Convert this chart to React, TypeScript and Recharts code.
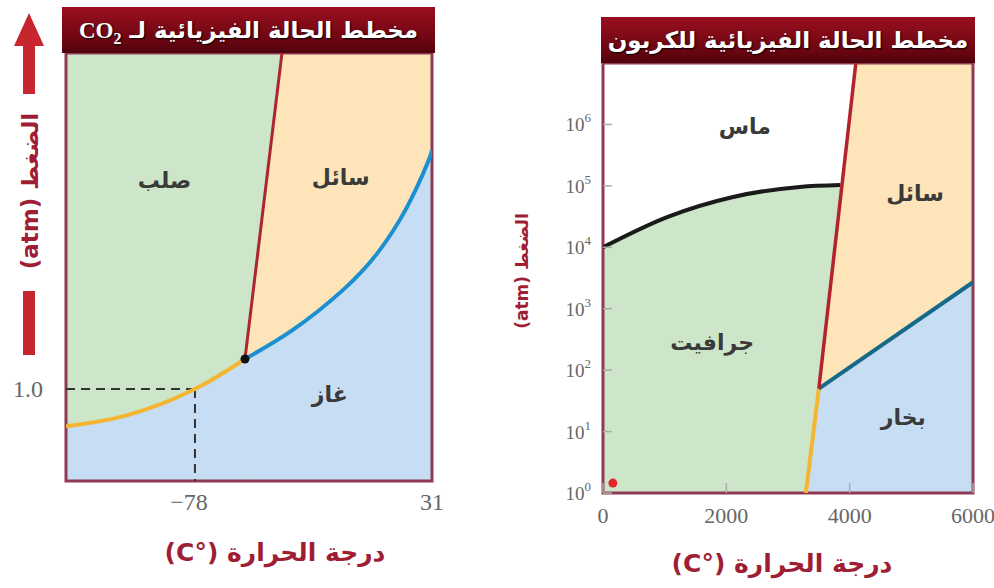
import React from 'react';
import {
  ComposedChart,
  Area,
  Line,
  Scatter,
  XAxis,
  YAxis,
  ReferenceArea,
} from 'recharts';

// ---------- CO2 diagram (schematic pressure axis, 0-100) ----------
const co2TempDomain = [-137.3, 31];
const co2TempTicks = [-78, 31];
const co2PressureDomain = [0, 100];
const co2PressureTicks = [21.5]; // where 1.0 atm sits on the schematic axis
const co2PressureTickLabels = ['1.0'];

const co2Sublimation = [
  { t: -137.3, p: 12.8 },
  { t: -109, p: 15.4 },
  { t: -78, p: 21.5 },
  { t: -55, p: 28.5 },
];
const co2Vaporization = [
  { t: -55, p: 28.5 },
  { t: -33, p: 35.3 },
  { t: -10, p: 44.6 },
  { t: 6, p: 53.3 },
  { t: 19.5, p: 64 },
  { t: 28.8, p: 74.1 },
  { t: 31, p: 77.3 },
];
const co2Melting = [
  { t: -55, p: 28.5 },
  { t: -38, p: 100 },
];
const co2Triple = [{ t: -55, p: 28.5 }];
const co2OneAtmH = [
  { t: -137.3, p: 21.5 },
  { t: -78, p: 21.5 },
];
const co2OneAtmV = [
  { t: -78, p: 21.5 },
  { t: -78, p: 0 },
];
const co2Labels = [
  { t: -92, p: 70.3, name: 'صلب' },
  { t: -11, p: 71, name: 'سائل' },
  { t: -16, p: 20.1, name: 'غاز' },
];

// ---------- Carbon diagram (log pressure axis) ----------
const cTempDomain = [0, 6000];
const cTempTicks = [0, 2000, 4000, 6000];
const cPressureDomain = [1, 1e7];
const cPressureTicks = [1, 10, 100, 1e3, 1e4, 1e5, 1e6];

const cDiamondGraphite = [
  { t: 0, p: 1.0e4 },
  { t: 1040, p: 3.1e4 },
  { t: 2110, p: 6.6e4 },
  { t: 3190, p: 9.6e4 },
  { t: 3850, p: 1.03e5 },
];
const cMelting = [
  { t: 3500, p: 50 },
  { t: 4100, p: 1e7 },
];
const cSublimation = [
  { t: 3290, p: 1 },
  { t: 3500, p: 50 },
];
const cVaporization = [
  { t: 3500, p: 50 },
  { t: 6000, p: 2700 },
];
const cRoomPoint = [{ t: 160, p: 1.45 }];
const cLabels = [
  { t: 2300, p: 9.1e5, name: 'ماس' },
  { t: 5060, p: 7.6e4, name: 'سائل' },
  { t: 1770, p: 277, name: 'جرافيت' },
  { t: 4870, p: 17, name: 'بخار' },
];

const GREEN = '#cde6c9';
const YELLOW = '#fde5b9';
const BLUE = '#c6ddf3';
const FRAME = '#8f3a52';
const AXIS_RED = '#9e1f35';
const ARABIC = '"DejaVu Sans", "Noto Sans", sans-serif';
const SERIF = '"Liberation Serif", "DejaVu Serif", serif';

const toRange = (rows: { t: number; p: number }[], low: number) =>
  rows.map((d) => ({ t: d.t, r: [low, d.p] }));

const RegionLabel = (props: any) => (
  <text
    x={props.cx}
    y={props.cy}
    textAnchor="middle"
    dominantBaseline="central"
    fontFamily={ARABIC}
    fontWeight="bold"
    fontSize={22}
    fill="#3a3a3a"
  >
    {props.payload.name}
  </text>
);

const co2XTick = ({ x, y, payload }: any) => (
  <text x={x} y={y} dy="0.71em" dx={payload.value < 0 ? -6 : 0} textAnchor="middle" fontFamily={SERIF} fontSize={24} fill="#666">
    {payload.value < 0 ? '\u2212' + Math.abs(payload.value) : payload.value}
  </text>
);

const co2YTick = ({ x, y, payload }: any) => (
  <text x={x} y={y} textAnchor="end" dominantBaseline="central" fontFamily={SERIF} fontSize={24} fill="#666">
    {co2PressureTickLabels[co2PressureTicks.indexOf(payload.value)]}
  </text>
);

const cXTick = ({ x, y, payload }: any) => (
  <g>
    <line x1={x} x2={x} y1={y - 14} y2={y - 24} stroke="#aaa" strokeWidth={1.5} />
    <text x={x} y={y} dy="0.71em" textAnchor="middle" fontFamily={SERIF} fontSize={22} fill="#666">
      {payload.value}
    </text>
  </g>
);

const cYTick = ({ x, y, payload }: any) => {
  const exp = Math.round(Math.log10(payload.value));
  return (
    <g>
      <line x1={x + 12} x2={x + 21} y1={y} y2={y} stroke="#aaa" strokeWidth={1.5} />
      <text x={x} y={y} textAnchor="end" dominantBaseline="central" fontFamily={SERIF} fontSize={19} fill="#666">
        <tspan>10</tspan>
        <tspan dy={-7} fontSize={13}>
          {exp}
        </tspan>
      </text>
    </g>
  );
};

const titleStyle: React.CSSProperties = {
  position: 'absolute',
  height: 46,
  background: 'linear-gradient(#9a0f1f, #6e0612 70%, #4e030c)',
  color: '#fff',
  fontFamily: ARABIC,
  fontWeight: 'bold',
  fontSize: 23,
  lineHeight: '46px',
  textAlign: 'center',
  textShadow: '1px 1px 2px #000',
  direction: 'rtl',
  whiteSpace: 'nowrap',
};

const axisTitleStyle: React.CSSProperties = {
  position: 'absolute',
  color: AXIS_RED,
  fontFamily: ARABIC,
  fontWeight: 'bold',
  direction: 'rtl',
  whiteSpace: 'nowrap',
  transform: 'translate(-50%, -50%)',
};

export default function App() {
  return (
    <div style={{ position: 'absolute', left: 0, top: 0, width: 994, height: 588, overflow: 'hidden', background: '#fff' }}>
      {/* Left: CO2 */}
      <div style={{ position: 'absolute', left: 0, top: 0 }}>
        <ComposedChart width={460} height={540} margin={{ top: 53, right: 28, bottom: 29, left: 0 }}>
          <XAxis
            dataKey="t"
            type="number"
            domain={co2TempDomain}
            ticks={co2TempTicks}
            allowDataOverflow
            axisLine={false}
            tickLine={false}
            tickSize={0}
            tickMargin={12}
            height={30}
            tick={co2XTick}
          />
          <YAxis
            dataKey="p"
            type="number"
            domain={co2PressureDomain}
            ticks={co2PressureTicks}
            allowDataOverflow
            axisLine={false}
            tickLine={false}
            tickSize={0}
            tickMargin={23}
            width={66}
            tick={co2YTick}
          />
          <ReferenceArea x1={co2TempDomain[0]} x2={co2TempDomain[1]} y1={0} y2={100} fill={GREEN} fillOpacity={1} stroke="none" />
          <Area
            data={[...toRange(co2Melting, 0), { t: co2TempDomain[1], r: [0, 100] }]}
            dataKey="r"
            type="linear"
            fill={YELLOW}
            fillOpacity={1}
            stroke="none"
            isAnimationActive={false}
          />
          <Area data={toRange(co2Sublimation, 0)} dataKey="r" type="natural" fill={BLUE} fillOpacity={1} stroke="none" isAnimationActive={false} />
          <Area data={toRange(co2Vaporization, 0)} dataKey="r" type="natural" fill={BLUE} fillOpacity={1} stroke="none" isAnimationActive={false} />
          <Line data={co2OneAtmH} dataKey="p" type="linear" stroke="#333" strokeWidth={2} strokeDasharray="9 6" dot={false} isAnimationActive={false} />
          <Line data={co2OneAtmV} dataKey="p" type="linear" stroke="#333" strokeWidth={2} strokeDasharray="9 6" dot={false} isAnimationActive={false} />
          <Line data={co2Sublimation} dataKey="p" type="natural" stroke="#f4b630" strokeWidth={4} dot={false} isAnimationActive={false} />
          <Line data={co2Vaporization} dataKey="p" type="natural" stroke="#1b8fcf" strokeWidth={4} dot={false} isAnimationActive={false} />
          <Line data={co2Melting} dataKey="p" type="linear" stroke="#ad2530" strokeWidth={3} dot={false} isAnimationActive={false} />
          <Scatter
            data={co2Triple}
            dataKey="p"
            isAnimationActive={false}
            shape={(p: any) => <circle cx={p.cx} cy={p.cy} r={4.5} fill="#111" />}
          />
          <Scatter data={co2Labels} dataKey="p" isAnimationActive={false} shape={RegionLabel} />
          <ReferenceArea x1={co2TempDomain[0]} x2={co2TempDomain[1]} y1={0} y2={100} fill="none" stroke={FRAME} strokeWidth={3} />
        </ComposedChart>
      </div>

      {/* Right: carbon */}
      <div style={{ position: 'absolute', left: 500, top: 0 }}>
        <ComposedChart width={494} height={540} margin={{ top: 63, right: 21, bottom: 17, left: 0 }}>
          <XAxis
            dataKey="t"
            type="number"
            domain={cTempDomain}
            ticks={cTempTicks}
            allowDataOverflow
            axisLine={false}
            tickLine={false}
            tickSize={0}
            tickMargin={14}
            height={30}
            tick={cXTick}
          />
          <YAxis
            dataKey="p"
            type="number"
            scale="log"
            domain={cPressureDomain}
            ticks={cPressureTicks}
            allowDataOverflow
            axisLine={false}
            tickLine={false}
            tickSize={0}
            tickMargin={12}
            width={103}
            tick={cYTick}
          />
          <ReferenceArea x1={cTempDomain[0]} x2={cTempDomain[1]} y1={cPressureDomain[0]} y2={cPressureDomain[1]} fill="#fff" fillOpacity={1} stroke="none" />
          <Area data={toRange(cDiamondGraphite, 1)} dataKey="r" type="monotone" fill={GREEN} fillOpacity={1} stroke="none" isAnimationActive={false} />
          <Area
            data={[...toRange(cMelting, 1), { t: cTempDomain[1], r: [1, cPressureDomain[1]] }]}
            dataKey="r"
            type="linear"
            fill={YELLOW}
            fillOpacity={1}
            stroke="none"
            isAnimationActive={false}
          />
          <Area
            data={toRange([...cSublimation, ...cVaporization.slice(1)], 1)}
            dataKey="r"
            type="linear"
            fill={BLUE}
            fillOpacity={1}
            stroke="none"
            isAnimationActive={false}
          />
          <Line data={cDiamondGraphite} dataKey="p" type="monotone" stroke="#1a1a1a" strokeWidth={4} dot={false} isAnimationActive={false} />
          <Line data={cSublimation} dataKey="p" type="linear" stroke="#f4b630" strokeWidth={4} dot={false} isAnimationActive={false} />
          <Line data={cVaporization} dataKey="p" type="linear" stroke="#17698a" strokeWidth={4} dot={false} isAnimationActive={false} />
          <Line data={cMelting} dataKey="p" type="linear" stroke="#b3232e" strokeWidth={3.5} dot={false} isAnimationActive={false} />
          <Scatter
            data={cRoomPoint}
            dataKey="p"
            isAnimationActive={false}
            shape={(p: any) => <circle cx={p.cx} cy={p.cy} r={4.5} fill="#e3262a" />}
          />
          <Scatter data={cLabels} dataKey="p" isAnimationActive={false} shape={RegionLabel} />
          <ReferenceArea x1={cTempDomain[0]} x2={cTempDomain[1]} y1={cPressureDomain[0]} y2={cPressureDomain[1]} fill="none" stroke={FRAME} strokeWidth={3} />
        </ComposedChart>
      </div>

      {/* titles */}
      <div style={{ ...titleStyle, left: 62, top: 7, width: 373 }}>
        مخطط الحالة الفيزيائية لـ <span style={{ fontFamily: SERIF }}>CO<sub style={{ fontSize: 16 }}>2</sub></span>
      </div>
      <div style={{ ...titleStyle, left: 601, top: 17, width: 374 }}>مخطط الحالة الفيزيائية للكربون</div>

      {/* axis titles */}
      <div style={{ ...axisTitleStyle, left: 275, top: 552, fontSize: 25 }}>درجة الحرارة (°C)</div>
      <div style={{ ...axisTitleStyle, left: 782, top: 563, fontSize: 25 }}>درجة الحرارة (°C)</div>
      <div style={{ ...axisTitleStyle, left: 30, top: 191, fontSize: 23, transform: 'translate(-50%, -50%) rotate(-90deg)' }}>
        الضغط (atm)
      </div>
      <div style={{ ...axisTitleStyle, left: 522, top: 271, fontSize: 17, transform: 'translate(-50%, -50%) rotate(-90deg)' }}>
        الضغط (atm)
      </div>

      {/* rising-pressure arrow beside the CO2 axis */}
      <svg style={{ position: 'absolute', left: 0, top: 0 }} width={60} height={370}>
        <polygon points="29,13 44,46 35,46 35,94 23,94 23,46 14,46" fill="#c8262e" />
        <rect x={23} y={291} width={12} height={64} fill="#c8262e" />
      </svg>
    </div>
  );
}
